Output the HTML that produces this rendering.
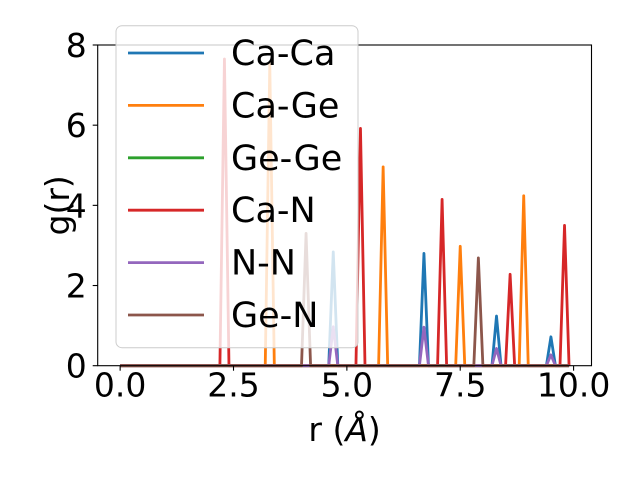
<!DOCTYPE html>
<html><head><meta charset="utf-8"><style>
body{margin:0;background:#fff}
svg{display:block;font-family:"DejaVu Sans","Liberation Sans",sans-serif}
</style></head><body>
<svg id="chart" width="640" height="480" viewBox="0 0 640 480">
<rect width="640" height="480" fill="#fff"/>
<g id="plot"></g>
<g id="axes"></g>
<g id="legend"></g>
</svg>
<script>
const seriesNames = ["Ca-Ca","Ca-Ge","Ge-Ge","Ca-N","N-N","Ge-N"];
const seriesColors = ["#1f77b4","#ff7f0e","#2ca02c","#d62728","#9467bd","#8c564b"];
const peaksCaCaR = [4.7, 6.7, 8.3, 9.5];
const peaksCaCaG = [2.84, 2.80, 1.24, 0.72];
const peaksCaGeR = [3.3, 5.8, 7.5, 8.9];
const peaksCaGeG = [7.54, 4.96, 2.98, 4.24];
const peaksGeGeR = [];
const peaksGeGeG = [];
const peaksCaNR = [2.3, 5.3, 7.1, 8.6, 9.8];
const peaksCaNG = [7.65, 5.92, 4.15, 2.28, 3.5];
const peaksNNR = [4.7, 6.7, 8.3, 9.5];
const peaksNNG = [0.97, 0.96, 0.43, 0.27];
const peaksGeNR = [4.1, 7.9];
const peaksGeNG = [3.30, 2.69];
const xTicks = [0, 2.5, 5, 7.5, 10];
const xTickLabels = ["0.0","2.5","5.0","7.5","10.0"];
const yTicks = [0, 2, 4, 6, 8];
const yTickLabels = ["0","2","4","6","8"];
const rMax = 9.9, rStep = 0.1;

const NS="http://www.w3.org/2000/svg";
const L=97.7,R=591.5,T=45,B=365.7;
const xMin=-0.495,xMax=10.395,yMin=0,yMax=8;
const X=v=>L+(v-xMin)/(xMax-xMin)*(R-L);
const Y=v=>B-(v-yMin)/(yMax-yMin)*(B-T);
function el(tag,attrs,parent){const e=document.createElementNS(NS,tag);for(const k in attrs)e.setAttribute(k,attrs[k]);parent.appendChild(e);return e;}

const allR=[[peaksCaCaR,peaksCaCaG],[peaksCaGeR,peaksCaGeG],[peaksGeGeR,peaksGeGeG],[peaksCaNR,peaksCaNG],[peaksNNR,peaksNNG],[peaksGeNR,peaksGeNG]];
const plot=document.getElementById('plot');
const n=Math.round(rMax/rStep);
allR.forEach((p,si)=>{
  const pts=[];
  for(let i=0;i<=n;i++){
    const r=i*rStep;let g=0;
    p[0].forEach((pr,j)=>{if(Math.abs(pr-r)<rStep/2)g=p[1][j];});
    pts.push(X(r).toFixed(2)+","+Y(g).toFixed(2));
  }
  const pl=el('polyline',{points:pts.join(' '),fill:'none',stroke:seriesColors[si],'stroke-width':2.8,'stroke-linejoin':'round'},plot);
  
  
});

const axes=document.getElementById('axes');
const frame=el('rect',{x:L,y:T,width:R-L,height:B-T,fill:'none',stroke:'#000','stroke-width':1.1},axes);


xTicks.forEach((v,i)=>{
  el('line',{x1:X(v),x2:X(v),y1:B,y2:B+5,stroke:'#000','stroke-width':1.1},axes);
  const t=el('text',{x:X(v),y:B+31,'font-size':33,'text-anchor':'middle'},axes);
  t.textContent=xTickLabels[i];
  
  
});
yTicks.forEach((v,i)=>{
  el('line',{x1:L-5,x2:L,y1:Y(v),y2:Y(v),stroke:'#000','stroke-width':1.1},axes);
  const t=el('text',{x:L-11,y:Y(v)+12,'font-size':33,'text-anchor':'end'},axes);
  t.textContent=yTickLabels[i];
  
  
});
const xl=el('text',{x:(L+R)/2,y:441,'font-size':33,'text-anchor':'middle'},axes);
xl.innerHTML='r (<tspan font-style="italic">Å</tspan>)';


const yl=el('text',{x:0,y:0,'font-size':33,'text-anchor':'middle',transform:'translate(69,'+((T+B)/2)+') rotate(-90)'},axes);
yl.textContent='g(r)';



const leg=document.getElementById('legend');
const box=el('rect',{x:116,y:25.7,width:242,height:322,rx:6,fill:'#fff','fill-opacity':0.8,stroke:'#ccc','stroke-width':1},leg);


seriesNames.forEach((nm,i)=>{
  const y=53+i*52.4;
  const g=el('g',{},leg);
  
  
  el('line',{x1:128,x2:204,y1:y,y2:y,stroke:seriesColors[i],'stroke-width':2.8},g);
  const t=el('text',{x:231,y:y+12,'font-size':35},g);
  t.textContent=nm;
});
</script>
</body></html>
